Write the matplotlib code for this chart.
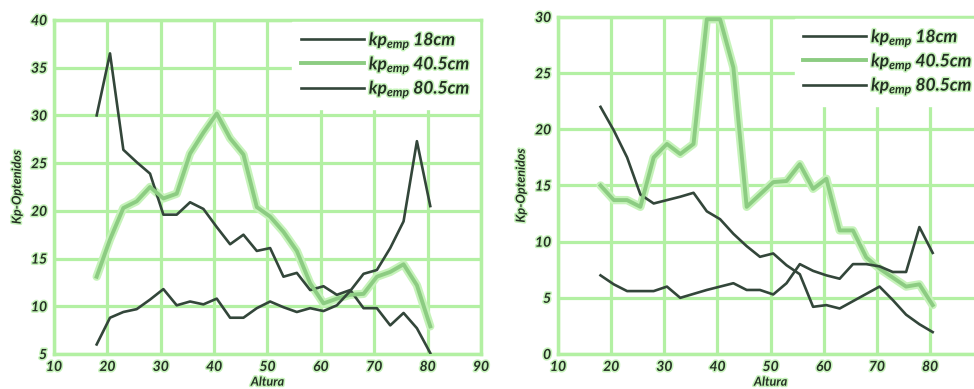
import matplotlib
matplotlib.use('Agg')
import matplotlib.pyplot as plt
import matplotlib.patheffects as pe

plt.rcParams['font.family'] = ['Lato', 'DejaVu Sans']
plt.rcParams['mathtext.fontset'] = 'custom'
plt.rcParams['mathtext.it'] = 'Lato:italic:bold'
plt.rcParams['mathtext.rm'] = 'Lato:bold'

# alturas (x) comunes
altura = [18, 20.5, 23, 25.5, 28, 30.5, 33, 35.5, 38, 40.5, 43, 45.5, 48,
          50.5, 53, 55.5, 58, 60.5, 63, 65.5, 68, 70.5, 73, 75.5, 78, 80.5]

# panel izquierdo
izq_18 = [30.0, 36.5, 26.4, 25.1, 23.9, 19.6, 19.6, 20.9, 20.2, 18.3, 16.5, 17.5, 15.8,
          16.1, 13.1, 13.5, 11.7, 12.1, 11.2, 11.7, 9.8, 9.8, 8.0, 9.3, 7.7, 5.1]
izq_40 = [13.1, 17.0, 20.3, 21.0, 22.5, 21.3, 21.8, 26.0, 28.2, 30.2, 27.6, 25.9, 20.4,
          19.4, 17.8, 15.8, 12.4, 10.3, 10.8, 11.2, 11.3, 13.1, 13.6, 14.4, 12.2, 7.9]
izq_80 = [6.0, 8.8, 9.4, 9.7, 10.7, 11.8, 10.1, 10.5, 10.2, 10.8, 8.8, 8.8, 9.8,
          10.5, 9.9, 9.4, 9.8, 9.5, 10.1, 11.6, 13.4, 13.8, 16.1, 18.9, 27.3, 20.5]

# panel derecho
der_18 = [22.0, 19.9, 17.5, 14.2, 13.4, 13.7, 14.0, 14.35, 12.7, 12.0, 10.7, 9.6, 8.65,
          8.95, 7.9, 7.1, 4.2, 4.35, 4.05, 4.7, 5.35, 6.0, 4.8, 3.5, 2.65, 1.95]
der_40 = [15.0, 13.7, 13.7, 13.1, 17.5, 18.7, 17.8, 18.7, 29.8, 29.8, 25.5, 13.1, 14.2,
          15.3, 15.4, 16.9, 14.7, 15.6, 11.0, 11.0, 8.6, 7.6, 6.8, 6.0, 6.2, 4.35]
der_80 = [7.0, 6.2, 5.6, 5.6, 5.6, 6.0, 5.0, 5.35, 5.7, 6.0, 6.3, 5.7, 5.7,
          5.3, 6.3, 8.0, 7.4, 7.0, 6.7, 8.0, 8.0, 7.8, 7.3, 7.3, 11.3, 9.0]

etiquetas = [r'$kp_{emp}$ 18cm', r'$kp_{emp}$ 40.5cm', r'$kp_{emp}$ 80.5cm']

verde_grid = '#b3f0a3'
oscuro = '#33463a'
claro = '#8ccc82'
halo = '#c6f3ba'

fig = plt.figure(figsize=(9.74, 3.89), dpi=100)
ax1 = fig.add_axes([0.0554, 0.090, 0.4384, 0.8586])
ax2 = fig.add_axes([0.5729, 0.090, 0.4365, 0.8663])

glow = [pe.Stroke(linewidth=2.2, foreground=halo), pe.Normal()]


def panel(ax, s18, s40, s80, ylim, yticks, xticks):
    ax.plot(altura, s40, color=halo, lw=6, solid_capstyle='round', zorder=2)
    ax.plot(altura, s18, color=oscuro, lw=1.9, zorder=3, label=etiquetas[0])
    ax.plot(altura, s40, color=claro, lw=2.8, zorder=3, label=etiquetas[1])
    ax.plot(altura, s80, color=oscuro, lw=1.9, zorder=3, label=etiquetas[2])
    ax.set_xlim(10, 90)
    ax.set_ylim(*ylim)
    ax.set_xticks(xticks)
    ax.set_yticks(yticks)
    ax.grid(True, color=verde_grid, lw=2.3)
    ax.set_axisbelow(True)
    for s in ax.spines.values():
        s.set_color(verde_grid)
        s.set_linewidth(2.5)
    ax.tick_params(length=0, pad=5, labelsize=10, labelcolor='#243024')
    for lab in ax.get_xticklabels() + ax.get_yticklabels():
        lab.set_fontweight('bold')
        lab.set_fontstyle('italic')
        lab.set_path_effects(glow)
    ax.set_xlabel('Altura', fontsize=9, fontweight='bold', fontstyle='italic',
                  color='#243024', labelpad=2, path_effects=glow)
    ax.set_ylabel('Kp-Optenidos', fontsize=9, fontweight='bold', fontstyle='italic',
                  color='#243024', labelpad=6, path_effects=glow)
    leg = ax.legend(loc='upper right', bbox_to_anchor=(1.0, 1.0), borderaxespad=0.1,
                    frameon=True, facecolor='white', edgecolor='white', framealpha=1,
                    fancybox=False, handlelength=3.6, labelspacing=0.15,
                    handletextpad=0.3, borderpad=0.5,
                    prop={'size': 12.5, 'weight': 'bold', 'style': 'italic'})
    for t in leg.get_texts():
        t.set_color('#243024')
        t.set_path_effects(glow)
    leg.set_zorder(4)


panel(ax1, izq_18, izq_40, izq_80, (5, 40), range(5, 41, 5), range(10, 91, 10))
panel(ax2, der_18, der_40, der_80, (0, 30), range(0, 31, 5), range(10, 81, 10))

fig.savefig('out.png', dpi=100)
